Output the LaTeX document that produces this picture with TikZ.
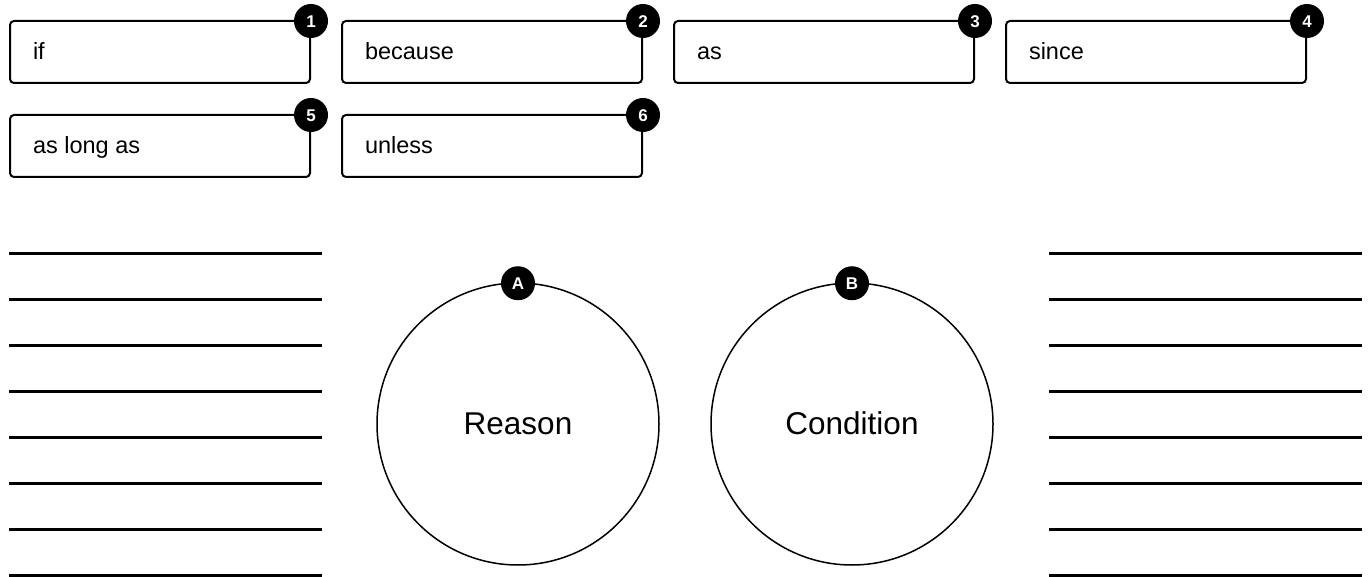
\documentclass[tikz,border=0pt]{standalone}
\usepackage{fontspec}
\setmainfont{Liberation Sans}
\newcommand{\wordtext}[1]{\makebox[254pt][l]{#1}}
\begin{document}
\begin{tikzpicture}[x=1pt,y=-1pt,
  wordbox/.style={draw, line width=2pt, rounded corners=4pt, minimum width=300pt, minimum height=62pt,
    text height=17pt, text depth=1pt, inner xsep=23pt, inner ysep=0pt, font=\fontsize{23.5}{28}\selectfont},
  badge/.style={circle, fill=black, text=white, minimum size=34pt, inner sep=0pt, text height=12.3pt, text depth=0pt, font=\fontsize{17}{20}\selectfont\bfseries},
  bigcircle/.style={draw, circle, line width=1.5pt, minimum size=282pt, inner sep=0pt, text height=24pt, text depth=3pt, font=\fontsize{31.5}{36}\selectfont},
  rule/.style={line width=3pt}]
\useasboundingbox (0,0) rectangle (1371,577);
% word boxes
\node[wordbox] (b1) at (160,52) {\wordtext{if}};
\node[wordbox] (b2) at (492,52) {\wordtext{because}};
\node[wordbox] (b3) at (824,52) {\wordtext{as}};
\node[wordbox] (b4) at (1156,52) {\wordtext{since}};
\node[wordbox] (b5) at (160,146) {\wordtext{as long as}};
\node[wordbox] (b6) at (492,146) {\wordtext{unless}};
\foreach \b/\n in {b1/1,b2/2,b3/3,b4/4,b5/5,b6/6}
  \node[badge] (n\n) at ([yshift=-1pt]\b.north east) {\n};
% circles
\node[bigcircle] (ca) at (518,424) {Reason};
\node[bigcircle] (cb) at (852,424) {Condition};
\node[badge] (na) at ([yshift=-1pt]ca.north) {A};
\node[badge] (nb) at ([yshift=-1pt]cb.north) {B};
% writing lines
\foreach \y in {253.5,299.5,345.5,391.5,437.5,483.5,529.5,575.5} {
  \draw[rule] (9,\y) -- (322,\y);
  \draw[rule] (1049,\y) -- (1362,\y);
}
\end{tikzpicture}
\end{document}
